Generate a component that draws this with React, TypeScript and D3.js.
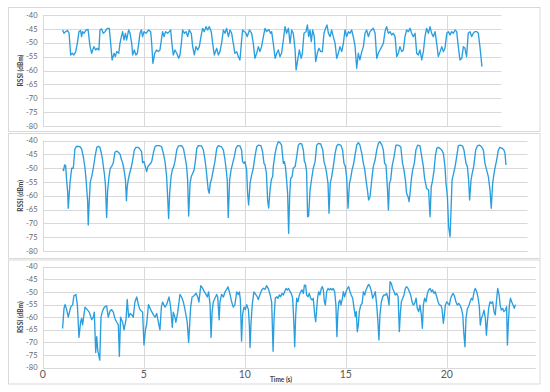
import * as d3 from 'd3';

// RSSI traces, [time (s), RSSI (dBm)]
const rssiTop: [number, number][] = [
  [0.98,-45.4],[1.05,-46.6],[1.13,-46.0],[1.23,-45.6],[1.30,-46.6],[1.38,-54.4],[1.46,-53.8],[1.54,-54.4],[1.63,-53.2],[1.71,-50.2],
  [1.79,-46.0],[1.87,-45.6],[1.92,-47.8],[1.97,-46.0],[2.04,-46.6],[2.14,-45.4],[2.24,-45.2],[2.34,-51.4],[2.42,-53.8],[2.53,-51.4],
  [2.62,-52.6],[2.70,-52.0],[2.78,-52.6],[2.83,-45.4],[2.91,-45.0],[2.99,-46.6],[3.08,-46.0],[3.19,-44.8],[3.29,-44.8],[3.36,-50.2],
  [3.43,-56.2],[3.53,-53.8],[3.59,-55.0],[3.66,-53.2],[3.76,-53.8],[3.82,-50.2],[3.89,-47.8],[3.95,-46.0],[4.02,-49.0],[4.09,-46.6],
  [4.15,-49.0],[4.25,-45.4],[4.32,-46.6],[4.40,-50.2],[4.45,-54.4],[4.53,-52.6],[4.61,-54.4],[4.68,-53.8],[4.75,-50.2],[4.81,-46.6],
  [4.88,-45.4],[4.94,-47.8],[5.01,-46.0],[5.11,-46.6],[5.24,-45.4],[5.34,-46.0],[5.39,-50.2],[5.45,-57.4],[5.54,-53.8],[5.64,-52.6],
  [5.72,-53.2],[5.80,-52.6],[5.87,-49.0],[5.93,-46.0],[6.00,-47.8],[6.08,-46.0],[6.18,-46.6],[6.26,-46.0],[6.33,-45.4],[6.39,-50.2],
  [6.46,-54.4],[6.54,-52.6],[6.63,-53.8],[6.73,-55.6],[6.79,-54.4],[6.86,-50.2],[6.92,-45.4],[7.01,-46.6],[7.09,-46.0],[7.17,-47.8],
  [7.25,-45.4],[7.35,-46.6],[7.42,-51.4],[7.50,-54.4],[7.58,-51.4],[7.67,-52.6],[7.75,-51.4],[7.83,-47.8],[7.91,-44.8],[7.99,-46.0],
  [8.08,-44.2],[8.16,-45.4],[8.24,-44.2],[8.34,-46.0],[8.41,-50.2],[8.49,-54.4],[8.61,-52.0],[8.69,-54.4],[8.77,-53.2],[8.85,-50.2],
  [8.94,-45.4],[9.02,-46.6],[9.10,-44.8],[9.19,-47.8],[9.27,-45.4],[9.35,-46.6],[9.43,-50.2],[9.51,-53.8],[9.60,-53.2],[9.68,-55.0],
  [9.76,-56.2],[9.83,-50.2],[9.89,-45.4],[9.98,-46.0],[10.06,-46.6],[10.12,-47.8],[10.23,-45.4],[10.34,-46.6],[10.42,-50.2],[10.50,-55.6],
  [10.59,-53.8],[10.67,-51.4],[10.75,-53.2],[10.83,-51.4],[10.92,-47.8],[11.00,-44.8],[11.08,-46.0],[11.18,-45.2],[11.28,-46.6],[11.33,-46.0],
  [11.41,-50.2],[11.50,-55.6],[11.58,-53.8],[11.66,-52.6],[11.74,-55.0],[11.82,-53.8],[11.91,-49.0],[11.99,-44.2],[12.07,-46.6],[12.16,-44.8],
  [12.24,-50.2],[12.32,-45.4],[12.40,-46.6],[12.49,-52.6],[12.54,-59.8],[12.62,-56.2],[12.70,-52.6],[12.79,-55.6],[12.85,-53.8],[12.93,-46.6],
  [13.03,-46.0],[13.10,-43.6],[13.16,-47.8],[13.23,-45.4],[13.29,-49.6],[13.36,-45.4],[13.44,-47.8],[13.51,-56.8],[13.59,-53.8],[13.67,-52.0],
  [13.76,-53.2],[13.84,-53.2],[13.92,-46.6],[14.00,-44.8],[14.07,-43.6],[14.14,-46.6],[14.22,-47.8],[14.30,-45.4],[14.38,-47.8],[14.47,-50.2],
  [14.55,-55.6],[14.63,-53.8],[14.71,-51.4],[14.80,-53.2],[14.88,-50.2],[14.96,-45.4],[15.04,-47.8],[15.13,-46.0],[15.21,-46.6],[15.29,-45.4],
  [15.37,-47.8],[15.46,-51.4],[15.54,-59.2],[15.62,-53.8],[15.70,-56.2],[15.79,-53.2],[15.87,-51.4],[15.95,-46.6],[16.03,-45.4],[16.12,-47.8],
  [16.20,-46.0],[16.28,-45.4],[16.36,-44.8],[16.45,-46.6],[16.53,-55.6],[16.61,-53.8],[16.69,-52.6],[16.78,-51.4],[16.86,-50.2],[16.94,-46.0],
  [17.02,-44.2],[17.11,-46.6],[17.19,-46.0],[17.27,-47.2],[17.35,-46.6],[17.44,-47.8],[17.52,-55.0],[17.60,-53.8],[17.68,-51.4],[17.77,-53.2],
  [17.85,-52.6],[17.93,-47.8],[18.01,-45.4],[18.10,-46.0],[18.18,-44.8],[18.26,-46.6],[18.34,-47.8],[18.43,-46.6],[18.51,-53.8],[18.59,-54.4],
  [18.67,-52.6],[18.76,-56.2],[18.84,-53.2],[18.92,-47.8],[19.00,-44.8],[19.09,-46.6],[19.17,-44.2],[19.25,-46.6],[19.33,-47.8],[19.42,-46.0],
  [19.50,-50.2],[19.58,-55.0],[19.67,-53.2],[19.75,-51.4],[19.83,-53.2],[19.91,-52.0],[20.00,-46.6],[20.08,-46.0],[20.16,-47.2],[20.24,-46.0],
  [20.32,-46.6],[20.41,-45.4],[20.49,-46.0],[20.57,-51.4],[20.65,-56.2],[20.74,-55.6],[20.82,-51.4],[20.90,-52.0],[20.98,-55.0],[21.06,-46.6],
  [21.15,-46.0],[21.23,-47.8],[21.31,-46.6],[21.39,-46.0],[21.48,-46.0],[21.56,-46.6],[21.64,-51.4],[21.74,-58.6],
];

const rssiMiddle: [number, number][] = [
  [0.98,-50.4],[1.03,-50.8],[1.08,-48.8],[1.13,-49.0],[1.18,-54.3],[1.23,-58.5],[1.26,-64.5],[1.35,-55.0],[1.43,-50.0],[1.51,-50.0],
  [1.59,-43.0],[1.68,-42.0],[1.84,-42.2],[1.92,-43.0],[2.01,-46.0],[2.09,-50.0],[2.14,-54.0],[2.19,-59.0],[2.22,-62.0],[2.25,-70.6],
  [2.30,-62.0],[2.35,-55.0],[2.42,-53.0],[2.50,-50.0],[2.58,-46.0],[2.67,-42.5],[2.75,-42.0],[2.83,-42.4],[2.91,-45.0],[2.96,-47.0],
  [3.01,-50.0],[3.05,-52.0],[3.10,-56.0],[3.16,-67.8],[3.21,-58.0],[3.28,-53.0],[3.34,-50.0],[3.43,-49.0],[3.49,-48.0],[3.57,-44.2],
  [3.66,-43.8],[3.74,-44.2],[3.82,-44.8],[3.90,-47.0],[3.95,-48.0],[4.02,-50.5],[4.09,-54.0],[4.14,-61.8],[4.18,-56.7],[4.23,-54.2],
  [4.30,-51.8],[4.37,-50.0],[4.45,-47.0],[4.53,-43.4],[4.61,-42.4],[4.73,-42.4],[4.81,-43.1],[4.89,-44.0],[4.94,-48.0],[5.01,-47.6],
  [5.08,-49.4],[5.14,-51.2],[5.21,-49.2],[5.27,-48.8],[5.34,-48.2],[5.39,-47.6],[5.47,-44.6],[5.55,-42.2],[5.64,-41.8],[5.77,-41.8],
  [5.88,-42.2],[5.97,-44.6],[6.05,-47.6],[6.13,-53.0],[6.18,-60.3],[6.23,-68.2],[6.28,-59.1],[6.35,-53.0],[6.41,-50.6],[6.48,-49.4],
  [6.54,-47.6],[6.63,-43.4],[6.71,-41.9],[6.87,-41.8],[6.96,-42.8],[7.04,-45.8],[7.12,-49.4],[7.17,-54.2],[7.22,-67.3],[7.29,-55.5],
  [7.35,-53.0],[7.42,-51.8],[7.49,-50.6],[7.55,-47.6],[7.62,-42.8],[7.70,-41.8],[7.86,-41.9],[7.95,-43.4],[8.03,-47.0],[8.08,-50.0],
  [8.14,-54.2],[8.19,-57.9],[8.24,-59.1],[8.29,-55.5],[8.36,-53.7],[8.44,-50.6],[8.52,-47.6],[8.61,-42.8],[8.69,-41.8],[8.85,-42.2],
  [8.94,-43.4],[9.02,-47.0],[9.07,-50.0],[9.13,-54.2],[9.18,-67.8],[9.25,-54.2],[9.32,-50.6],[9.40,-48.2],[9.48,-45.8],[9.56,-42.8],
  [9.65,-41.8],[9.76,-41.9],[9.84,-43.4],[9.89,-47.6],[9.96,-48.2],[10.01,-47.6],[10.09,-50.6],[10.14,-59.1],[10.19,-63.3],[10.26,-55.5],
  [10.34,-52.4],[10.42,-50.0],[10.50,-45.8],[10.59,-42.2],[10.67,-41.6],[10.80,-41.8],[10.88,-44.0],[10.95,-48.2],[11.00,-48.8],[11.07,-51.8],
  [11.13,-61.5],[11.18,-64.4],[11.25,-57.9],[11.31,-54.2],[11.38,-53.0],[11.41,-49.4],[11.50,-44.6],[11.58,-41.9],[11.66,-40.4],[11.74,-40.7],
  [11.82,-41.6],[11.91,-48.2],[11.96,-47.6],[12.01,-49.4],[12.07,-54.3],[12.12,-59.1],[12.17,-73.6],[12.22,-60.3],[12.27,-53.7],[12.34,-53.1],
  [12.40,-50.0],[12.49,-49.4],[12.57,-45.8],[12.65,-41.6],[12.73,-41.0],[12.82,-41.2],[12.90,-43.4],[12.95,-47.6],[13.00,-48.2],[13.06,-51.2],
  [13.11,-67.6],[13.16,-67.3],[13.23,-57.9],[13.31,-53.7],[13.39,-50.0],[13.48,-47.6],[13.56,-41.6],[13.64,-41.0],[13.76,-41.2],[13.86,-43.4],
  [13.92,-47.6],[13.99,-49.4],[14.05,-51.8],[14.12,-55.5],[14.17,-66.3],[14.23,-55.5],[14.30,-53.1],[14.38,-49.4],[14.47,-44.6],[14.55,-41.9],
  [14.63,-41.3],[14.75,-41.6],[14.84,-43.4],[14.91,-48.2],[14.98,-49.4],[15.04,-53.1],[15.11,-64.5],[15.18,-55.5],[15.24,-53.7],[15.31,-50.6],
  [15.39,-48.2],[15.47,-44.6],[15.54,-41.6],[15.62,-40.7],[15.70,-41.6],[15.79,-44.6],[15.87,-48.2],[15.94,-50.6],[16.00,-54.3],[16.07,-57.9],
  [16.13,-61.5],[16.20,-60.3],[16.25,-56.7],[16.30,-53.1],[16.36,-49.4],[16.45,-47.0],[16.53,-43.4],[16.61,-41.0],[16.69,-40.4],[16.79,-41.6],
  [16.86,-43.4],[16.92,-48.2],[16.99,-48.8],[17.06,-57.3],[17.11,-65.1],[17.16,-55.5],[17.22,-54.3],[17.29,-49.4],[17.39,-45.8],[17.48,-41.6],
  [17.57,-41.6],[17.65,-41.9],[17.72,-42.2],[17.81,-48.2],[17.88,-50.6],[17.95,-54.3],[18.01,-59.1],[18.08,-60.3],[18.13,-62.1],[18.18,-59.1],
  [18.24,-54.3],[18.31,-50.6],[18.39,-48.2],[18.47,-43.4],[18.56,-41.6],[18.67,-41.9],[18.76,-45.8],[18.84,-49.4],[18.90,-53.7],[19.00,-57.3],
  [19.10,-57.9],[19.17,-67.6],[19.23,-56.7],[19.30,-54.3],[19.37,-50.6],[19.43,-45.8],[19.50,-42.8],[19.58,-42.4],[19.66,-42.8],[19.75,-43.4],
  [19.83,-44.6],[19.91,-49.4],[19.96,-55.5],[20.03,-60.3],[20.09,-71.2],[20.16,-74.8],[20.21,-65.1],[20.26,-54.3],[20.32,-52.4],[20.41,-49.4],
  [20.49,-45.8],[20.57,-41.9],[20.65,-41.6],[20.78,-41.9],[20.85,-43.4],[20.95,-48.2],[21.02,-49.4],[21.08,-54.3],[21.13,-61.5],[21.20,-54.3],
  [21.26,-51.8],[21.33,-49.4],[21.43,-43.4],[21.51,-41.9],[21.61,-41.6],[21.72,-42.2],[21.81,-43.4],[21.89,-48.2],[21.97,-50.6],[22.06,-53.1],
  [22.14,-57.9],[22.20,-64.5],[22.27,-55.5],[22.34,-51.8],[22.40,-49.4],[22.47,-47.0],[22.55,-43.4],[22.63,-42.4],[22.75,-42.8],[22.83,-43.4],
  [22.88,-44.6],[22.93,-48.8],
];

const rssiBottom: [number, number][] = [
  [0.98,-64.5],[1.05,-56.5],[1.10,-55.0],[1.18,-57.0],[1.26,-60.0],[1.38,-56.0],[1.48,-55.0],[1.54,-51.5],[1.64,-51.0],[1.71,-55.0],
  [1.79,-68.0],[1.87,-62.0],[1.92,-60.5],[1.97,-63.0],[2.09,-56.0],[2.20,-57.0],[2.30,-58.0],[2.42,-61.0],[2.50,-60.0],[2.55,-58.0],
  [2.62,-74.0],[2.67,-67.7],[2.72,-73.0],[2.77,-75.0],[2.82,-77.0],[2.88,-60.0],[2.96,-57.5],[3.05,-56.0],[3.16,-55.5],[3.24,-60.0],
  [3.33,-57.5],[3.41,-57.0],[3.49,-58.0],[3.57,-60.5],[3.66,-62.0],[3.74,-63.0],[3.79,-75.5],[3.85,-60.0],[3.95,-62.0],[4.02,-65.0],
  [4.12,-61.0],[4.18,-53.0],[4.25,-60.0],[4.32,-58.5],[4.40,-59.0],[4.48,-60.0],[4.56,-54.0],[4.65,-52.0],[4.73,-55.0],[4.81,-57.0],
  [4.94,-58.0],[5.01,-71.0],[5.08,-65.0],[5.14,-63.0],[5.23,-55.0],[5.34,-57.0],[5.47,-59.0],[5.56,-60.0],[5.64,-58.5],[5.72,-62.0],
  [5.80,-65.0],[5.87,-56.0],[5.93,-54.0],[6.05,-56.0],[6.13,-55.0],[6.25,-52.0],[6.33,-56.0],[6.41,-64.0],[6.46,-58.0],[6.54,-60.0],
  [6.59,-62.0],[6.68,-58.0],[6.79,-51.0],[6.87,-52.0],[6.96,-54.0],[7.04,-57.0],[7.15,-62.0],[7.22,-70.0],[7.32,-56.0],[7.39,-52.0],
  [7.49,-51.5],[7.59,-50.5],[7.67,-52.0],[7.73,-54.0],[7.82,-47.5],[7.91,-48.5],[8.00,-50.0],[8.08,-51.0],[8.14,-52.0],[8.21,-50.0],
  [8.28,-55.0],[8.33,-68.0],[8.38,-58.0],[8.44,-54.0],[8.52,-52.5],[8.61,-51.0],[8.66,-52.0],[8.73,-61.0],[8.77,-54.0],[8.85,-51.0],
  [8.94,-52.0],[9.02,-50.0],[9.10,-49.0],[9.17,-48.0],[9.27,-51.0],[9.35,-54.0],[9.43,-56.0],[9.51,-55.0],[9.60,-50.0],[9.68,-51.0],
  [9.73,-50.0],[9.78,-53.0],[9.84,-69.5],[9.89,-59.0],[9.96,-56.0],[10.03,-57.0],[10.09,-55.0],[10.18,-57.0],[10.23,-64.0],[10.26,-72.0],
  [10.31,-62.0],[10.37,-55.0],[10.45,-50.0],[10.54,-51.0],[10.62,-52.0],[10.67,-53.0],[10.75,-51.0],[10.85,-49.0],[10.92,-48.5],[11.00,-49.0],
  [11.08,-47.5],[11.18,-49.0],[11.25,-51.0],[11.33,-54.0],[11.40,-73.5],[11.45,-60.0],[11.51,-52.5],[11.58,-51.9],[11.64,-52.5],[11.71,-51.2],
  [11.77,-51.9],[11.84,-50.6],[11.91,-51.2],[11.97,-49.9],[12.04,-48.6],[12.11,-49.2],[12.17,-48.6],[12.24,-49.9],[12.30,-50.6],[12.37,-52.5],
  [12.44,-64.4],[12.47,-71.7],[12.52,-59.1],[12.57,-52.5],[12.63,-53.9],[12.70,-51.2],[12.77,-49.9],[12.83,-49.2],[12.90,-50.6],[12.95,-47.3],
  [13.01,-47.3],[13.06,-51.2],[13.13,-51.9],[13.19,-50.6],[13.26,-52.5],[13.33,-53.2],[13.39,-52.5],[13.46,-59.1],[13.51,-61.8],[13.56,-56.5],
  [13.61,-51.9],[13.66,-49.9],[13.72,-51.2],[13.79,-48.6],[13.84,-47.9],[13.89,-49.2],[13.94,-53.9],[13.99,-55.2],[14.05,-49.9],[14.12,-48.6],
  [14.18,-49.2],[14.25,-48.6],[14.32,-49.2],[14.38,-48.6],[14.45,-49.9],[14.51,-55.2],[14.56,-67.7],[14.61,-57.8],[14.66,-53.9],[14.71,-53.2],
  [14.76,-55.2],[14.83,-52.5],[14.88,-49.9],[14.94,-51.9],[15.01,-49.9],[15.08,-48.6],[15.14,-47.9],[15.21,-49.9],[15.27,-51.2],[15.34,-52.5],
  [15.41,-56.5],[15.47,-59.8],[15.52,-57.8],[15.57,-65.7],[15.62,-63.1],[15.67,-57.8],[15.74,-55.2],[15.81,-54.5],[15.87,-49.9],[15.94,-51.2],
  [16.00,-49.2],[16.07,-47.9],[16.13,-47.0],[16.20,-47.9],[16.27,-49.9],[16.33,-52.5],[16.40,-51.2],[16.46,-49.9],[16.53,-55.2],[16.59,-61.8],
  [16.64,-69.0],[16.69,-59.1],[16.76,-53.9],[16.83,-51.9],[16.89,-51.2],[16.96,-51.2],[17.02,-50.6],[17.09,-52.5],[17.14,-55.2],[17.19,-45.9],
  [17.25,-46.6],[17.32,-48.6],[17.39,-49.9],[17.45,-51.2],[17.52,-50.6],[17.59,-51.9],[17.65,-65.7],[17.70,-58.5],[17.75,-53.9],[17.82,-52.5],
  [17.88,-51.2],[17.95,-48.6],[18.01,-47.9],[18.08,-48.6],[18.15,-49.9],[18.21,-51.2],[18.28,-53.9],[18.34,-55.2],[18.41,-54.5],[18.48,-52.5],
  [18.54,-56.5],[18.61,-57.8],[18.67,-55.2],[18.74,-59.1],[18.79,-64.4],[18.84,-55.2],[18.90,-52.5],[18.97,-53.9],[19.04,-50.6],[19.10,-49.2],
  [19.17,-48.6],[19.24,-49.9],[19.30,-49.2],[19.37,-50.6],[19.43,-49.9],[19.50,-51.9],[19.57,-53.9],[19.63,-55.2],[19.70,-55.2],[19.76,-56.5],
  [19.83,-62.4],[19.88,-59.1],[19.93,-55.2],[20.00,-53.9],[20.06,-54.5],[20.13,-55.2],[20.19,-52.5],[20.26,-51.2],[20.32,-50.6],[20.39,-51.9],
  [20.45,-53.9],[20.52,-55.2],[20.59,-54.5],[20.65,-55.2],[20.72,-56.5],[20.79,-59.1],[20.85,-67.1],[20.90,-71.7],[20.95,-60.5],[21.02,-56.5],
  [21.08,-55.8],[21.15,-53.9],[21.22,-52.5],[21.28,-53.2],[21.35,-49.9],[21.41,-48.6],[21.48,-49.9],[21.54,-51.9],[21.61,-55.8],[21.66,-63.1],
  [21.71,-60.5],[21.78,-59.1],[21.84,-57.2],[21.91,-60.5],[21.96,-67.1],[22.01,-61.8],[22.07,-56.5],[22.14,-53.9],[22.20,-54.5],[22.27,-53.9],
  [22.34,-57.8],[22.40,-59.1],[22.47,-52.5],[22.52,-48.6],[22.59,-51.2],[22.64,-55.2],[22.70,-57.2],[22.77,-56.5],[22.83,-57.8],[22.90,-57.2],
  [22.96,-55.8],[23.00,-71.0],[23.05,-61.8],[23.10,-55.2],[23.15,-52.5],[23.21,-53.9],[23.28,-55.2],[23.34,-56.5],[23.39,-55.2],[23.42,-55.2],
];

const yTicks = [-40, -45, -50, -55, -60, -65, -70, -75, -80];
const xGridTicks = [5, 10, 15, 20];
const xTickLabels = ['0', '5', '10', '15', '20'];
const xMaxes = [22.7, 24.0, 24.4];

const FONT = 'Lato, "Open Sans", sans-serif';
const LINE_COLOR = '#2a9fe0';
const GRID = '#d9d9d9';

const PX_PER_SEC = 20.2;
const PLOT_LEFT = 42.8;

// box top/bottom and plot top/bottom for each of the three charts
const layout = [
  { boxTop: 7, boxBottom: 131, plotTop: 15, plotBottom: 126 },
  { boxTop: 133, boxBottom: 258, plotTop: 140.7, plotBottom: 251 },
  { boxTop: 259.5, boxBottom: 383.5, plotTop: 266.7, plotBottom: 367.7 },
];

const Panel = ({ data, xMax, lay, showX }) => {
  const x = d3.scaleLinear().domain([0, xMax]).range([PLOT_LEFT, PLOT_LEFT + xMax * PX_PER_SEC]);
  const y = d3.scaleLinear().domain([-80, -40]).range([lay.plotBottom, lay.plotTop]);
  const line = d3.line<[number, number]>().x(d => x(d[0])).y(d => y(d[1]));
  const midY = (lay.plotTop + lay.plotBottom) / 2;

  return (
    <g>
      <rect x={8.5} y={lay.boxTop + 0.5} width={531.5} height={lay.boxBottom - lay.boxTop}
        fill="#fff" stroke={GRID} strokeWidth={1} />
      {yTicks.map(t => (
        <line key={'h' + t} x1={x(0)} x2={x(xMax)} y1={Math.round(y(t)) + 0.5} y2={Math.round(y(t)) + 0.5}
          stroke={GRID} strokeWidth={1} />
      ))}
      {xGridTicks.map(t => (
        <line key={'v' + t} x1={Math.round(x(t)) + 0.5} x2={Math.round(x(t)) + 0.5} y1={y(-40)} y2={y(-80)}
          stroke={GRID} strokeWidth={1} />
      ))}
      <line x1={Math.round(x(0)) + 0.5} x2={Math.round(x(0)) + 0.5} y1={y(-40)} y2={y(-80)} stroke={GRID} />
      {yTicks.map(t => (
        <text key={'yl' + t} x={37.5} y={y(t)} dy="0.35em" textAnchor="end"
          fontFamily={FONT} fontSize={7.5} fill="#666">{t}</text>
      ))}
      <text transform={`translate(21,${midY}) rotate(-90)`} textAnchor="middle" dy="0.35em"
        fontFamily={FONT} fontSize={6.6} fontWeight="bold" fill="#404040">RSSI (dBm)</text>
      <path d={line(data)} fill="none" stroke={LINE_COLOR} strokeWidth={1.35} strokeLinejoin="round" />
      {showX && xTickLabels.map((lbl, i) => (
        <text key={'xl' + lbl} x={x(i * 5)} y={377.5} textAnchor="middle"
          fontFamily={FONT} fontSize={10.5} fill="#595959">{lbl}</text>
      ))}
      {showX && (
        <text x={281} y={381.5} textAnchor="middle" fontFamily={FONT} fontSize={6.5}
          fontWeight="bold" fill="#404040">Time (s)</text>
      )}
    </g>
  );
};

export default function App() {
  const series = [rssiTop, rssiMiddle, rssiBottom];
  return (
    <svg width={550} height={392} style={{ position: 'absolute', left: 0, top: 0, background: '#fff' }}>
      <rect width={550} height={392} fill="#fff" />
      {series.map((s, i) => (
        <Panel key={i} data={s} xMax={xMaxes[i]} lay={layout[i]} showX={i === 2} />
      ))}
    </svg>
  );
}
